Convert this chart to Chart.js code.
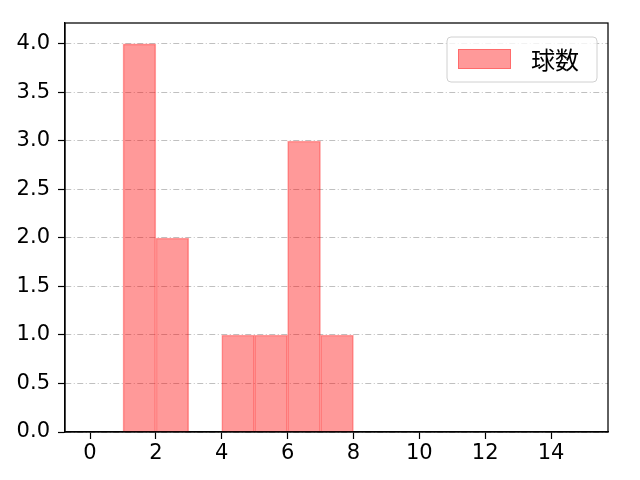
<!DOCTYPE html>
<html>
<head>
<meta charset="utf-8">
<script src="https://cdn.jsdelivr.net/npm/chart.js@4"></script>
<style>
  html, body { margin: 0; padding: 0; background: #fff; }
  #wrap { width: 640px; height: 480px; }
</style>
</head>
<body>
<div id="wrap"><canvas id="pitchChart"></canvas></div>
<script>
const binCenters = [1.5, 2.5, 3.5, 4.5, 5.5, 6.5, 7.5];
const counts = [4, 2, 0, 1, 1, 3, 1];
const xTicks = [0, 2, 4, 6, 8, 10, 12, 14];
const yTicks = [0, 0.5, 1, 1.5, 2, 2.5, 3, 3.5, 4];
const seriesLabel = "球数";

const tickFont = "'DejaVu Sans', sans-serif";
const cjkFont = "'Noto Sans CJK JP', sans-serif";

// frame around the plot + legend box in the upper right
const framePlugin = {
    id: 'frame',
    afterDraw(chart) {
        const ctx = chart.ctx;
        const a = chart.chartArea;
        ctx.save();
        ctx.strokeStyle = '#000';
        ctx.lineWidth = 1.25;
        ctx.strokeRect(a.left, a.top, a.right - a.left, a.bottom - a.top);

        // legend
        const bx = 447, by = 37, bw = 150, bh = 45, r = 4;
        ctx.beginPath();
        ctx.moveTo(bx + r, by);
        ctx.arcTo(bx + bw, by, bx + bw, by + bh, r);
        ctx.arcTo(bx + bw, by + bh, bx, by + bh, r);
        ctx.arcTo(bx, by + bh, bx, by, r);
        ctx.arcTo(bx, by, bx + bw, by, r);
        ctx.closePath();
        ctx.fillStyle = 'rgba(255,255,255,0.8)';
        ctx.fill();
        ctx.strokeStyle = '#d0d0d0';
        ctx.lineWidth = 1;
        ctx.stroke();

        ctx.fillStyle = 'rgba(255,0,0,0.4)';
        ctx.fillRect(458, 49, 53, 20);
        ctx.strokeStyle = 'rgba(255,0,0,0.3)';
        ctx.strokeRect(458.5, 49.5, 52, 19);

        ctx.fillStyle = '#000';
        ctx.font = '24px ' + cjkFont;
        ctx.textBaseline = 'middle';
        ctx.textAlign = 'left';
        ctx.fillText(seriesLabel, 531, 60);
        ctx.restore();
    }
};

new Chart(document.getElementById('pitchChart'), {
    type: 'bar',
    data: {
        datasets: [{
            label: seriesLabel,
            data: binCenters.map((x, i) => ({ x: x, y: counts[i] })),
            backgroundColor: 'rgba(255,0,0,0.4)',
            borderColor: 'rgba(255,0,0,0.35)',
            borderWidth: 1,
            borderSkipped: 'start',
            barPercentage: 1,
            categoryPercentage: 1,
        }],
    },
    options: {
        responsive: true,
        maintainAspectRatio: false,
        animation: false,
        layout: { padding: { top: 23, right: 32, left: 0, bottom: 0 } },
        plugins: {
            legend: { display: false },
            tooltip: { enabled: false },
        },
        scales: {
            x: {
                type: 'linear',
                min: -0.76,
                max: 15.73,
                offset: false,
                afterBuildTicks(scale) { scale.ticks = xTicks.map(v => ({ value: v })); },
                afterFit(scale) { scale.height = 48; },
                grid: { offset: false, drawOnChartArea: false, drawTicks: true, tickLength: 7, tickColor: '#000', tickWidth: 1.2 },
                border: { display: true, color: '#000', width: 1.25 },
                ticks: {
                    color: '#000',
                    padding: 2,
                    maxRotation: 0,
                    font: { family: tickFont, size: 21 },
                    callback: v => String(v),
                },
            },
            y: {
                min: 0,
                max: 4.216,
                afterBuildTicks(scale) { scale.ticks = yTicks.map(v => ({ value: v })); },
                afterFit(scale) { scale.width = 65; },
                grid: {
                    color: '#b0b0b0',
                    lineWidth: 0.8,
                    drawTicks: true,
                    tickLength: 7,
                    tickColor: '#000',
                    tickWidth: 1.2,
                    tickBorderDash: [],
                },
                border: { display: true, color: '#000', width: 1.25, dash: [6, 2.5, 1, 2.5] },
                ticks: {
                    color: '#000',
                    padding: 8,
                    font: { family: tickFont, size: 21 },
                    callback: v => Number(v).toFixed(1),
                },
            },
        },
    },
    plugins: [framePlugin],
});
</script>
</body>
</html>
